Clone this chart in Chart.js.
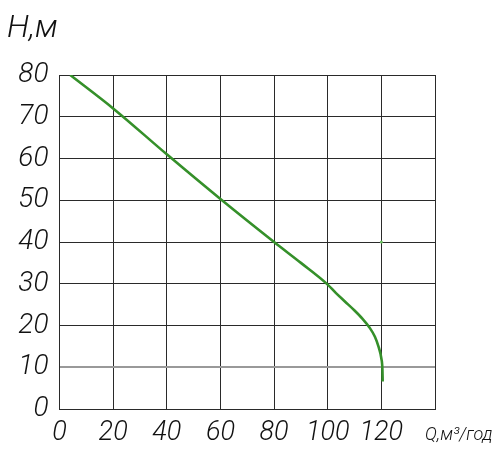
<!DOCTYPE html>
<html>
<head>
<meta charset="utf-8">
<script src="https://cdn.jsdelivr.net/npm/chart.js@4"></script>
<style>
  html, body { margin: 0; padding: 0; background: #fff; }
  #wrap { width: 500px; height: 453px; }
</style>
</head>
<body>
<div id="wrap"><canvas id="pumpChart"></canvas></div>
<script>
// Pump curve H(Q)
const flowQ = [4, 20, 40, 60, 80, 90, 100, 103, 106.5, 110, 113, 115.5, 117.6, 119, 120, 120.4, 120.5];
const headH = [80, 72, 61, 50.3, 40, 35, 29.8, 27.8, 25.7, 23.6, 21.6, 19.6, 17.3, 14.8, 12.1, 9.4, 6.6];
const markQ = [120];
const markH = [40];
const xTicks = [0, 20, 40, 60, 80, 100, 120];
const yTicks = [0, 10, 20, 30, 40, 50, 60, 70, 80];

const fontFamily = 'Roboto, "DejaVu Sans Condensed", sans-serif';

// axis titles drawn by hand, like on the drawing
const axisTitles = {
    id: 'axisTitles',
    afterDraw(chart) {
        const ctx = chart.ctx;
        const x = chart.scales.x;
        ctx.save();
        ctx.fillStyle = '#111';
        ctx.font = 'italic 300 32px ' + fontFamily;
        ctx.textBaseline = 'alphabetic';
        ctx.fillText('Н,м', 7, 37);
        ctx.font = 'italic 300 18px ' + fontFamily;
        ctx.fillText('Q,м³/год', x.getPixelForValue(140) - 10, 440);
        ctx.restore();
    }
};

new Chart(document.getElementById('pumpChart'), {
    type: 'scatter',
    data: {
        datasets: [{
            label: 'H',
            data: flowQ.map((q, i) => ({ x: q, y: headH[i] })),
            showLine: true,
            borderColor: '#35902a',
            borderWidth: 2.6,
            pointRadius: 0,
            cubicInterpolationMode: 'monotone'
        }, {
            label: 'mark',
            data: markQ.map((q, i) => ({ x: q, y: markH[i] })),
            pointRadius: 1.5,
            pointBackgroundColor: '#6cc060',
            pointBorderWidth: 0
        }]
    },
    options: {
        responsive: true,
        maintainAspectRatio: false,
        animation: false,
        layout: { padding: { left: 0, top: 75, right: 65, bottom: 0 } },
        plugins: { legend: { display: false }, tooltip: { enabled: false } },
        scales: {
            x: {
                type: 'linear', min: 0, max: 140,
                afterFit: (s) => { s.height = 44; },
                afterBuildTicks: (s) => { s.ticks = xTicks.concat([140]).map(v => ({ value: v })); },
                ticks: {
                    font: { family: fontFamily, size: 27, style: 'italic', weight: 300 },
                    color: '#111', padding: 8, maxRotation: 0,
                    callback: (v) => (v === 140 ? '' : v)
                },
                grid: { color: '#2a2a2a', lineWidth: 1, drawTicks: false },
                border: { color: '#2a2a2a', width: 1 }
            },
            y: {
                type: 'linear', min: 0, max: 80,
                afterFit: (s) => { s.width = 59.5; },
                afterBuildTicks: (s) => { s.ticks = yTicks.map(v => ({ value: v })); },
                ticks: {
                    font: { family: fontFamily, size: 28, style: 'italic', weight: 300 },
                    color: '#111', padding: 11
                },
                grid: {
                    color: (c) => (c.tick && c.tick.value === 10 ? '#999' : '#2a2a2a'),
                    lineWidth: (c) => (c.tick && c.tick.value === 10 ? 2 : 1),
                    drawTicks: false
                },
                border: { color: '#2a2a2a', width: 1 }
            }
        }
    },
    plugins: [axisTitles]
});
</script>
</body>
</html>
